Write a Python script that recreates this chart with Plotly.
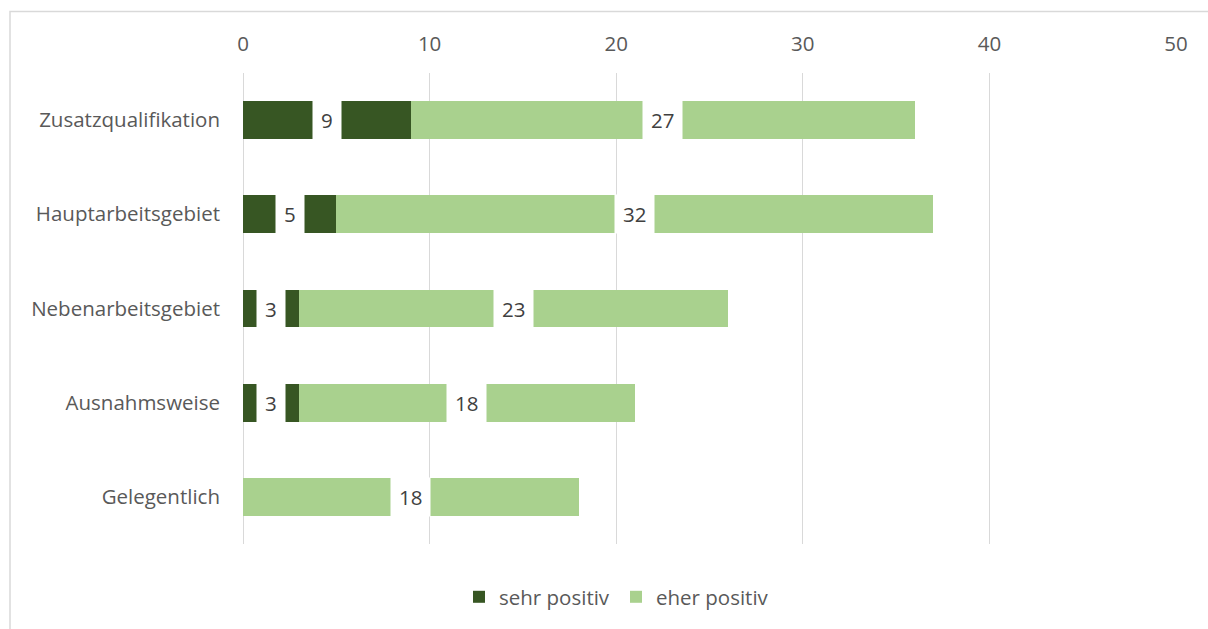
import plotly.graph_objects as go

categories = ["Zusatzqualifikation", "Hauptarbeitsgebiet", "Nebenarbeitsgebiet",
              "Ausnahmsweise", "Gelegentlich"]
sehr_positiv = [9, 5, 3, 3, 0]
eher_positiv = [27, 32, 23, 18, 18]
x_ticks = [0, 10, 20, 30, 40, 50]

DARK = "#375623"
LIGHT = "#a9d18e"
FONT = "Open Sans"
TEXT_GRAY = "#595959"
FS = 20.5

fig = go.Figure()
fig.add_trace(go.Bar(y=categories, x=sehr_positiv, name="sehr positiv",
                     orientation="h", marker=dict(color=DARK, line=dict(width=0))))
fig.add_trace(go.Bar(y=categories, x=eher_positiv, name="eher positiv",
                     orientation="h", marker=dict(color=LIGHT, line=dict(width=0))))

# value labels on white boxes, centred in each segment
for cat, a, b in zip(categories, sehr_positiv, eher_positiv):
    for start, val in ((0, a), (a, b)):
        if val <= 0:
            continue
        fig.add_annotation(x=start + val / 2, y=cat, xref="x", yref="y",
                           text=str(val), showarrow=False,
                           font=dict(family=FONT, size=FS, color="#404040"),
                           bgcolor="white", borderpad=8, height=22)

# light outer frame of the chart area
fig.add_shape(type="rect", xref="paper", yref="paper",
              x0=(10 - 243) / 933, x1=1.2, y0=-0.5, y1=1 + (73 - 11) / 474,
              line=dict(color="#d9d9d9", width=1.5), fillcolor="rgba(0,0,0,0)",
              layer="below")

fig.update_layout(
    barmode="stack",
    bargap=0.6,
    width=1208, height=629,
    margin=dict(l=243, r=32, t=73, b=82, pad=0),
    plot_bgcolor="white", paper_bgcolor="white",
    font=dict(family=FONT, size=FS, color=TEXT_GRAY),
    showlegend=True,
    legend=dict(orientation="h", x=(473 - 243 - 14) / 933, xanchor="left",
                y=-0.07, yanchor="top",
                font=dict(family=FONT, size=FS, color=TEXT_GRAY),
                itemwidth=30, entrywidth=112, entrywidthmode="pixels",
                traceorder="normal"),
    xaxis=dict(side="top", range=[0, 50], tickvals=x_ticks, showgrid=True,
               gridcolor="#d9d9d9", gridwidth=1.3, zeroline=True,
               zerolinecolor="#d9d9d9", zerolinewidth=1.3, showline=False,
               ticks="", ticklabelstandoff=17, tickfont=dict(size=FS, color=TEXT_GRAY)),
    yaxis=dict(autorange="reversed", showgrid=False, showline=False, ticks="",
               ticklabelstandoff=22, tickfont=dict(size=FS, color=TEXT_GRAY)),
)

fig.write_html("out.html")
